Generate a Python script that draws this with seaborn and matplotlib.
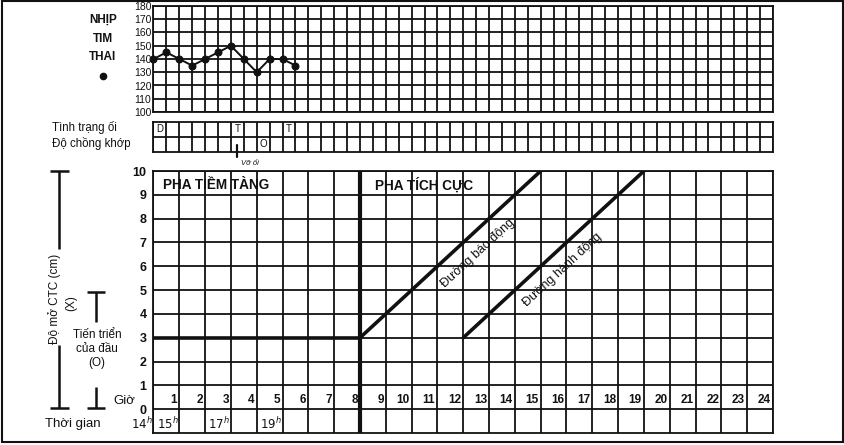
import numpy as np
import pandas as pd
import seaborn as sns
import matplotlib.pyplot as plt
from matplotlib.patches import Rectangle

# -------------------------
# Data read off the partograph
# -------------------------
fhr_time = [0, 0.5, 1, 1.5, 2, 2.5, 3, 3.5, 4, 4.5, 5, 5.5]
fhr_bpm = [140, 145, 140, 135, 140, 145, 150, 140, 130, 140, 140, 135]
fhr_ticks = [100, 110, 120, 130, 140, 150, 160, 170, 180]

liquor_time = [0, 3, 5]          # Tình trạng ối
liquor_code = ["D", "T", "T"]
moulding_time = [4]              # Độ chồng khớp
moulding_code = ["O"]
rupture_time = 3.25              # Vỡ ối

latent_x = [0, 8]
latent_y = [3, 3]
alert_x = [8, 15]
alert_y = [3, 10]
action_x = [12, 19]
action_y = [3, 10]

hours = list(range(1, 25))
dilation_ticks = list(range(0, 11))
clock_pos = [0, 1, 3, 5]
clock_text = ["14", "15", "17", "19"]

# -------------------------
# Style
# -------------------------
sns.set_style("white")
plt.rcParams["font.family"] = ["Liberation Sans", "DejaVu Sans"]
INK = "#111111"
GRID_LW = 1.3

W, H = 845, 445
fig = plt.figure(figsize=(W / 100, H / 100), dpi=100)


def box(l, t, r, b):
    return [l / W, 1 - b / H, (r - l) / W, (b - t) / H]


def grid_axes(ax):
    ax.grid(True, color=INK, lw=GRID_LW)
    ax.tick_params(length=0)
    for s in ax.spines.values():
        s.set_color(INK)
        s.set_linewidth(GRID_LW)
        s.set_visible(True)


# background axes in pixel coordinates for side labels
bg = fig.add_axes([0, 0, 1, 1])
bg.set_xlim(0, W)
bg.set_ylim(H, 0)
bg.axis("off")

# -------------------------
# Fetal heart rate grid
# -------------------------
ax1 = fig.add_axes(box(153.5, 6, 773, 112))
sns.lineplot(x=fhr_time, y=fhr_bpm, ax=ax1, color=INK, lw=1.4,
             marker="o", markersize=5, markeredgecolor=INK, clip_on=False, zorder=5)
ax1.set_xlim(0, 24)
ax1.set_ylim(100, 180)
ax1.set_xticks(np.arange(0, 24.5, 0.5))
ax1.set_xticklabels([])
ax1.set_yticks(fhr_ticks)
ax1.set_yticklabels([str(v) for v in fhr_ticks], fontsize=7.5, color=INK)
ax1.tick_params(axis="y", pad=1.5)
grid_axes(ax1)

# -------------------------
# Liquor / moulding rows
# -------------------------
ax2 = fig.add_axes(box(153.5, 121.5, 773, 152))
ax2.set_xlim(0, 24)
ax2.set_ylim(0, 2)
ax2.set_xticks(np.arange(0, 24.5, 0.5))
ax2.set_xticklabels([])
ax2.set_yticks([1])
ax2.set_yticklabels([])
grid_axes(ax2)
for t, c in zip(liquor_time, liquor_code):
    ax2.text(t + 0.25, 1.5, c, ha="center", va="center", fontsize=7, color=INK)
for t, c in zip(moulding_time, moulding_code):
    ax2.text(t + 0.25, 0.5, c, ha="center", va="center", fontsize=7, color=INK)
ax2.plot([rupture_time, rupture_time], [0.45, -0.35], color=INK, lw=1.6, clip_on=False)
ax2.text(rupture_time + 0.5, -0.75, "Vỡ ối", fontsize=5.5, style="italic",
         ha="center", va="center", color=INK)

# -------------------------
# Cervical dilation grid
# -------------------------
ax3 = fig.add_axes(box(153.5, 171, 773, 433))
ax3.set_xlim(0, 24)
ax3.set_ylim(-1, 10)
ax3.set_xticks(range(0, 25))
ax3.set_xticklabels([])
ax3.set_yticks(dilation_ticks)
ax3.set_yticklabels([str(v) for v in dilation_ticks], fontsize=9,
                    fontweight="bold", color=INK)
ax3.tick_params(axis="y", pad=5)
grid_axes(ax3)

sns.lineplot(x=latent_x, y=latent_y, ax=ax3, color=INK, lw=2.6, zorder=4)
sns.lineplot(x=alert_x, y=alert_y, ax=ax3, color=INK, lw=2.6, zorder=4)
sns.lineplot(x=action_x, y=action_y, ax=ax3, color=INK, lw=2.6, zorder=4)
ax3.axvline(8, color=INK, lw=3, zorder=4)

for h in hours:
    ax3.text(h - 0.08, 0.38, str(h), ha="right", va="center", fontsize=8.5,
             fontweight="bold", color=INK)
for p, t in zip(clock_pos, clock_text):
    ax3.text(p - 0.03, -0.64, r"$\mathit{%s}^{\mathit{h}}$" % t, ha="right",
             va="center", fontsize=8.5, color=INK, clip_on=False)

ax3.text(0.38, 9.4, "PHA TIỀM TÀNG", fontsize=9.8, fontweight="bold",
         ha="left", va="center", color=INK)
ax3.text(8.6, 9.4, "PHA TÍCH CỰC", fontsize=9.8, fontweight="bold",
         ha="left", va="center", color=INK)

angle = np.degrees(np.arctan((262 / 11) / (619.5 / 24)))
ax3.text(12.55, 6.55, "Đường báo động", rotation=angle, rotation_mode="anchor",
         ha="center", va="center", fontsize=9, color=INK)
ax3.text(15.85, 5.85, "Đường hành động", rotation=angle, rotation_mode="anchor",
         ha="center", va="center", fontsize=9, color=INK)

# -------------------------
# Left side labels
# -------------------------
for y, s in zip([20, 39, 57], ["NHỊP", "TIM", "THAI"]):
    bg.text(103, y, s, ha="center", va="center", fontsize=8.5,
            fontweight="bold", color=INK)
bg.plot([103], [76], "o", color=INK, markersize=4.5)

bg.text(52, 128, "Tình trạng ối", ha="left", va="center", fontsize=8.3, color=INK)
bg.text(52, 144, "Độ chồng khớp", ha="left", va="center", fontsize=8.3, color=INK)

# brackets
kw = dict(color=INK, lw=1.8, solid_capstyle="butt")
bg.plot([59.5, 59.5], [171, 249], **kw)
bg.plot([50, 69], [171, 171], **kw)
bg.plot([59.5, 59.5], [345, 408], **kw)
bg.plot([50, 69], [408, 408], **kw)
bg.plot([96, 96], [291.5, 322], **kw)
bg.plot([87, 105], [291.5, 291.5], **kw)
bg.plot([96, 96], [387, 408], **kw)
bg.plot([87, 105], [408, 408], **kw)

bg.text(55, 299, "Độ mở CTC (cm)", rotation=90, ha="center", va="center",
        fontsize=8.5, color=INK)
bg.text(71, 303, "(X)", rotation=90, ha="center", va="center",
        fontsize=8.5, color=INK)
bg.text(97, 335, "Tiến triển", ha="center", va="center", fontsize=8.5, color=INK)
bg.text(97, 349, "của đầu", ha="center", va="center", fontsize=8.5, color=INK)
bg.text(97, 363, "(O)", ha="center", va="center", fontsize=8.5, color=INK)
bg.text(113, 401, "Giờ", ha="left", va="center", fontsize=9.5, color=INK)
bg.text(45, 424, "Thời gian", ha="left", va="center", fontsize=9.5, color=INK)

# outer frame
fig.patches.append(Rectangle((2 / W, 3 / H), 841 / W, 441 / H, transform=fig.transFigure,
                             fill=False, edgecolor=INK, lw=1.5))

plt.savefig("out.png", dpi=100)
plt.close()
